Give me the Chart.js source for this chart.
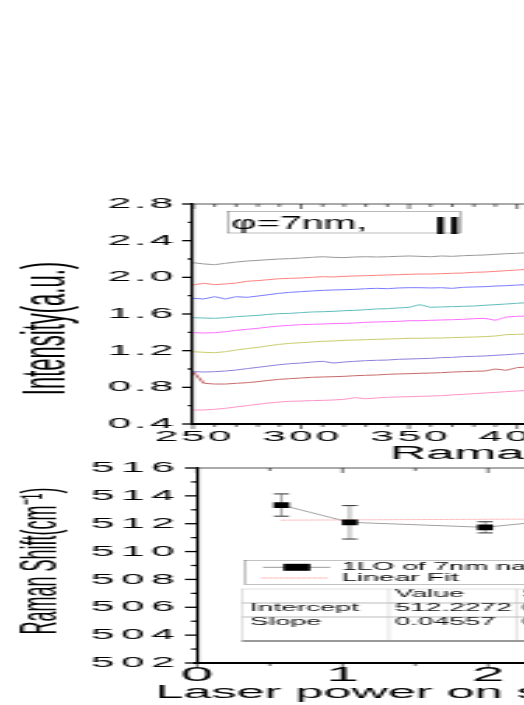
<!DOCTYPE html>
<html>
<head>
<meta charset="utf-8">
<script src="https://cdn.jsdelivr.net/npm/chart.js@4.4.1/dist/chart.umd.min.js"></script>
<style>
  html, body { margin: 0; padding: 0; background: #fff; width: 524px; height: 705px; overflow: hidden; }
  .stretch { position: absolute; left: 0; transform: scaleX(2.8); transform-origin: 0 0; }
</style>
</head>
<body>
<div class="stretch" style="top:180px"><canvas id="spectra" width="380" height="290"></canvas></div>
<div class="stretch" style="top:445px"><canvas id="power" width="290" height="260"></canvas></div>
<script>
// the whole figure is stretched sideways, so everything is drawn narrow and scaled by S
const S = 2.8;
const FONT = "'Liberation Sans', Arial, sans-serif";

// ---- top panel: Raman spectra ----
const ramanShift = [250, 255, 260, 265, 270, 275, 280, 285, 290, 295, 300, 305, 310, 315, 320, 325, 330,
  335, 340, 345, 350, 355, 360, 365, 370, 375, 380, 385, 390, 395, 400, 405, 410];
const spec1 = [2.160, 2.146, 2.138, 2.153, 2.167, 2.178, 2.185, 2.193, 2.200, 2.204, 2.211, 2.218, 2.225, 2.218, 2.215, 2.222, 2.225,
  2.222, 2.225, 2.229, 2.233, 2.229, 2.225, 2.233, 2.229, 2.236, 2.240, 2.244, 2.251, 2.258, 2.262, 2.269, 2.273];
const spec2 = [1.917, 1.935, 1.920, 1.928, 1.938, 1.957, 1.964, 1.975, 1.985, 1.989, 1.993, 2.000, 2.007, 2.004, 2.011, 2.015, 2.018,
  2.022, 2.026, 2.029, 2.033, 2.036, 2.036, 2.040, 2.044, 2.047, 2.055, 2.058, 2.065, 2.073, 2.080, 2.087, 2.091];
const spec3 = [1.771, 1.764, 1.789, 1.764, 1.789, 1.782, 1.796, 1.811, 1.826, 1.836, 1.844, 1.851, 1.858, 1.862, 1.865, 1.869, 1.876,
  1.880, 1.876, 1.884, 1.887, 1.887, 1.884, 1.887, 1.880, 1.891, 1.895, 1.898, 1.905, 1.909, 1.916, 1.920, 1.924];
const spec4 = [1.560, 1.556, 1.553, 1.560, 1.571, 1.578, 1.585, 1.596, 1.604, 1.607, 1.615, 1.622, 1.625, 1.629, 1.636, 1.640, 1.647,
  1.655, 1.658, 1.666, 1.673, 1.702, 1.673, 1.677, 1.680, 1.684, 1.687, 1.695, 1.702, 1.709, 1.717, 1.724, 1.728];
const spec5 = [1.396, 1.393, 1.396, 1.407, 1.422, 1.433, 1.444, 1.458, 1.469, 1.477, 1.484, 1.487, 1.491, 1.495, 1.498, 1.502, 1.509,
  1.513, 1.516, 1.520, 1.527, 1.527, 1.531, 1.535, 1.538, 1.542, 1.549, 1.553, 1.531, 1.567, 1.575, 1.578, 1.582];
const spec6 = [1.189, 1.182, 1.178, 1.189, 1.207, 1.222, 1.236, 1.254, 1.269, 1.280, 1.287, 1.295, 1.302, 1.306, 1.313, 1.316, 1.320,
  1.324, 1.327, 1.331, 1.335, 1.335, 1.338, 1.338, 1.342, 1.346, 1.349, 1.353, 1.360, 1.375, 1.378, 1.382, 1.382];
const spec7 = [0.971, 0.967, 0.971, 0.978, 0.989, 1.004, 1.018, 1.033, 1.047, 1.058, 1.065, 1.076, 1.084, 1.065, 1.076, 1.084, 1.091,
  1.095, 1.098, 1.106, 1.109, 1.113, 1.116, 1.124, 1.127, 1.135, 1.138, 1.142, 1.149, 1.156, 1.164, 1.171, 1.175];
const spec8 = [0.971, 0.844, 0.836, 0.836, 0.844, 0.851, 0.862, 0.876, 0.887, 0.895, 0.902, 0.909, 0.913, 0.916, 0.920, 0.927, 0.931,
  0.935, 0.942, 0.946, 0.949, 0.953, 0.956, 0.960, 0.967, 0.971, 0.975, 0.978, 1.000, 0.986, 1.015, 1.022, 1.026];
const spec9 = [0.553, 0.553, 0.560, 0.571, 0.586, 0.600, 0.615, 0.629, 0.640, 0.647, 0.651, 0.655, 0.658, 0.662, 0.669, 0.687, 0.676,
  0.684, 0.691, 0.695, 0.698, 0.702, 0.705, 0.709, 0.717, 0.724, 0.731, 0.738, 0.745, 0.753, 0.760, 0.767, 0.771];
const spectra = [spec1, spec2, spec3, spec4, spec5, spec6, spec7, spec8, spec9];
const specColors = ['#8c8c8c', '#ff7070', '#6a6aff', '#4cb4b4', '#ff5cff', '#c4c45a', '#7d72d6', '#c05858', '#ff84c0'];
const shiftTicks = [250, 300, 350, 400, 450, 500, 550, 600];
const intensityTicks = [0.4, 0.8, 1.2, 1.6, 2.0, 2.4, 2.8];

// ---- bottom panel: peak position vs laser power ----
const laserPower = [0.58, 1.05, 1.98, 3.0];
const peakShift = [513.34, 512.10, 511.74, 512.80];
const peakError = [0.80, 1.20, 0.40, 0.60];
const fitPower = [0.58, 3.0];
const fitShift = [512.254, 512.364];
const powerTicks = [0, 1, 2, 3, 4];
const peakTicks = [502, 504, 506, 508, 510, 512, 514, 516];
const fitRows = [['', 'Value', 'Standard Error'], ['Intercept', '512.2272', '0.5902'], ['Slope', '0.04557', '0.2711']];

function seg(ctx, x1, y1, x2, y2) {
  ctx.beginPath(); ctx.moveTo(x1, y1); ctx.lineTo(x2, y2); ctx.stroke();
}

// tick labels in the original are a little spaced out; only active while the scales draw
const spacedLabels = {
  id: 'spacedLabels',
  beforeDraw(chart, args, o) { chart.ctx.letterSpacing = o.spacing + 'px'; },
  beforeDatasetsDraw(chart) { chart.ctx.letterSpacing = '0px'; }
};

// ticks in/out, top axis line and axis titles
const frame = {
  id: 'frame',
  afterDraw(chart, args, o) {
    const {ctx, chartArea: a, scales: {x, y}} = chart;
    ctx.save();
    ctx.strokeStyle = '#555';
    ctx.lineWidth = 1;
    seg(ctx, a.left, a.top, a.right, a.top);
    ctx.strokeStyle = '#000';
    ctx.lineWidth = 0.55;
    for (let i = 0; ; i++) {
      const v = x.min + i * o.xMinor;
      if (v > x.max + 1e-9) break;
      const px = x.getPixelForValue(v);
      const major = Math.abs(v / o.xMajor - Math.round(v / o.xMajor)) < 1e-6;
      seg(ctx, px, a.bottom, px, a.bottom + (major ? o.xOut + 2 : o.xOut));
      seg(ctx, px, a.top, px, a.top + (major ? o.xIn + 2 : o.xIn));
    }
    ctx.lineWidth = 1.3;
    for (let i = 0; ; i++) {
      const v = y.min + i * o.yMinor;
      if (v > y.max + 1e-9) break;
      const py = y.getPixelForValue(v);
      const major = Math.abs(v / o.yMajor - Math.round(v / o.yMajor)) < 1e-6;
      seg(ctx, a.left - (major ? o.yMajorLen : o.yMinorLen), py, a.left, py);
    }
    ctx.fillStyle = '#000';
    ctx.textAlign = 'left';
    ctx.textBaseline = 'alphabetic';
    ctx.font = o.xTitleSize + 'px ' + FONT;
    ctx.fillText(o.xTitle, o.xTitleX, o.xTitleY);
    ctx.translate(o.yTitleX, o.yTitleY);
    ctx.rotate(-Math.PI / 2);
    ctx.textAlign = 'center';
    ctx.font = o.yTitleSize + 'px ' + FONT;
    ctx.fillText(o.yTitle, 0, 0);
    ctx.restore();
  }
};

const phiLabel = {
  id: 'phiLabel',
  afterDraw(chart) {
    const ctx = chart.ctx;
    ctx.save();
    ctx.fillStyle = '#fff';
    ctx.fillRect(81.4, 31.7, 82.9, 21.3);
    ctx.strokeStyle = '#777';
    ctx.lineWidth = 0.5;
    ctx.strokeRect(81.4, 31.7, 82.9, 21.3);
    ctx.fillStyle = '#000';
    ctx.textBaseline = 'alphabetic';
    ctx.font = 'bold 18px ' + FONT;
    ctx.fillText('||', 154.8, 49.5);
    ctx.translate(82.6, 49);
    ctx.scale(0.74, 1);
    ctx.font = '19px ' + FONT;
    ctx.fillText('\u03c6=7nm,', 0, 0);
    ctx.restore();
  }
};

const errorBars = {
  id: 'errorBars',
  beforeDatasetsDraw(chart) {
    const {ctx, scales: {x, y}} = chart;
    ctx.save();
    ctx.strokeStyle = '#333';
    laserPower.forEach((p, i) => {
      const px = x.getPixelForValue(p);
      const top = y.getPixelForValue(peakShift[i] + peakError[i]);
      const bot = y.getPixelForValue(peakShift[i] - peakError[i]);
      ctx.lineWidth = 0.4;
      seg(ctx, px, top, px, bot);
      ctx.lineWidth = 1;
      seg(ctx, px - 2.7, top, px + 2.7, top);
      seg(ctx, px - 2.7, bot, px + 2.7, bot);
    });
    ctx.restore();
  }
};

const fitBox = {
  id: 'fitBox',
  afterDraw(chart) {
    const ctx = chart.ctx;
    ctx.save();
    // legend
    ctx.fillStyle = '#fff';
    ctx.fillRect(87.5, 115.7, 200, 23.6);
    ctx.strokeStyle = '#666';
    ctx.lineWidth = 0.4;
    ctx.strokeRect(87.5, 115.7, 200, 23.6);
    ctx.strokeStyle = '#999';
    ctx.lineWidth = 1;
    seg(ctx, 93.9, 122.3, 117.9, 122.3);
    ctx.fillStyle = '#000';
    ctx.fillRect(101.2, 118.8, 9.6, 7);
    ctx.strokeStyle = '#ff9090';
    ctx.setLineDash([1.2, 0.8]);
    seg(ctx, 93.5, 133, 117.5, 133);
    ctx.setLineDash([]);
    ctx.font = '10px ' + FONT;
    ctx.textBaseline = 'middle';
    ctx.fillText('1LO of 7nm nanowires', 122, 122.3);
    ctx.fillText('Linear Fit', 122, 133);
    // fit table
    ctx.fillStyle = '#fff';
    ctx.fillRect(86.4, 144, 200, 52);
    ctx.strokeStyle = '#bbb';
    ctx.lineWidth = 0.4;
    ctx.strokeRect(86.4, 144, 200, 52);
    ctx.lineWidth = 1;
    seg(ctx, 86.4, 158, 286.4, 158);
    seg(ctx, 86.4, 172, 286.4, 172);
    ctx.lineWidth = 0.4;
    seg(ctx, 138.9, 144, 138.9, 196);
    seg(ctx, 184.6, 144, 184.6, 196);
    ctx.strokeStyle = '#999';
    ctx.lineWidth = 2;
    seg(ctx, 86.4, 196, 286.4, 196);
    ctx.fillStyle = '#111';
    const cols = [89.3, 141, 186.3];
    const rows = [149, 163.6, 177];
    fitRows.forEach((r, i) => r.forEach((t, j) => ctx.fillText(t, cols[j], rows[i])));
    ctx.restore();
  }
};

new Chart(document.getElementById('spectra'), {
  type: 'line',
  data: {
    datasets: spectra.map((s, k) => ({
      data: ramanShift.map((v, i) => ({x: v, y: s[i]})),
      borderColor: specColors[k],
      borderWidth: 0.9,
      pointRadius: 0,
      fill: false
    }))
  },
  options: {
    responsive: false,
    animation: false,
    events: [],
    layout: {padding: {top: 24, right: 10.2, left: 0, bottom: 0}},
    plugins: {
      legend: {display: false},
      tooltip: {enabled: false},
      spacedLabels: {spacing: 1.2},
      frame: {
        xMinor: 10, xMajor: 50, xOut: 3, xIn: 3,
        yMinor: 0.2, yMajor: 0.4, yMajorLen: 3.9, yMinorLen: 1.8,
        xTitle: 'Raman Shift (cm\u207b\u00b9)', xTitleSize: 18, xTitleX: 139.3, xTitleY: 279,
        yTitle: 'Intensity(a.u.)', yTitleSize: 22, yTitleX: 23.2, yTitleY: 148.5
      }
    },
    scales: {
      x: {
        type: 'linear', min: 250, max: 640,
        afterBuildTicks: s => { s.ticks = shiftTicks.map(v => ({value: v})); },
        afterFit: s => { s.height = 46; },
        grid: {display: false, drawTicks: false},
        border: {color: '#000', width: 2},
        ticks: {font: {family: FONT, size: 15}, color: '#000', padding: 4, labelOffset: 0.6, maxRotation: 0, autoSkip: false}
      },
      y: {
        min: 0.4, max: 2.8,
        afterBuildTicks: s => { s.ticks = intensityTicks.map(v => ({value: v})); },
        afterFit: s => { s.width = 193 / S; },
        grid: {display: false, drawTicks: false},
        border: {color: '#000', width: 1.1},
        ticks: {font: {family: FONT, size: 15}, color: '#000', padding: 5.9, callback: v => v.toFixed(1)}
      }
    }
  },
  plugins: [spacedLabels, frame, phiLabel]
});

new Chart(document.getElementById('power'), {
  type: 'line',
  data: {
    datasets: [{
      data: laserPower.map((p, i) => ({x: p, y: peakShift[i]})),
      borderColor: '#a0a0a0',
      borderWidth: 1,
      pointStyle: 'rect',
      pointRadius: 4,
      pointBackgroundColor: '#000',
      pointBorderWidth: 0,
      fill: false
    }, {
      data: fitPower.map((p, i) => ({x: p, y: fitShift[i]})),
      borderColor: '#ff9a9a',
      borderWidth: 1,
      borderDash: [1.2, 0.8],
      pointRadius: 0,
      fill: false
    }]
  },
  options: {
    responsive: false,
    animation: false,
    events: [],
    layout: {padding: {top: 23, right: 11.8, left: 0, bottom: 0}},
    plugins: {
      legend: {display: false},
      tooltip: {enabled: false},
      spacedLabels: {spacing: 2.5},
      frame: {
        xMinor: 0.5, xMajor: 1, xOut: 3, xIn: 3,
        yMinor: 1, yMajor: 2, yMajorLen: 4.3, yMinorLen: 2.1,
        xTitle: 'Laser power on sample (mW)', xTitleSize: 18, xTitleX: 55.4, xTitleY: 253,
        yTitle: 'Raman Shift(cm\u207b\u00b9)', yTitleSize: 18, yTitleX: 20.4, yTitleY: 116
      }
    },
    scales: {
      x: {
        type: 'linear', min: 0, max: 4,
        afterBuildTicks: s => { s.ticks = powerTicks.map(v => ({value: v})); },
        afterFit: s => { s.height = 42; },
        grid: {display: false, drawTicks: false},
        border: {color: '#000', width: 2},
        ticks: {font: {family: FONT, size: 21}, color: '#000', padding: 0, labelOffset: 1.25, maxRotation: 0, autoSkip: false}
      },
      y: {
        min: 502, max: 516,
        afterBuildTicks: s => { s.ticks = peakTicks.map(v => ({value: v})); },
        afterFit: s => { s.width = 197 / S; },
        grid: {display: false, drawTicks: false},
        border: {color: '#000', width: 1.1},
        ticks: {font: {family: FONT, size: 15}, color: '#000', padding: 5.4}
      }
    }
  },
  plugins: [spacedLabels, frame, errorBars, fitBox]
});
</script>
</body>
</html>
